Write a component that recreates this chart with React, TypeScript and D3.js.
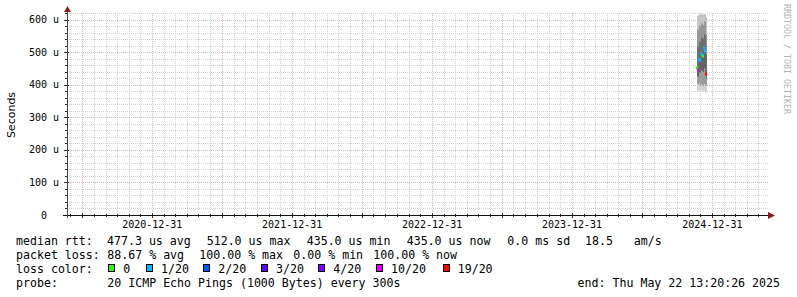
import React from "react";
import * as d3 from "d3";

// ---- data ----
const endTime = new Date(2025, 4, 22, 13, 20, 26);
const xTickLabels = ["2020-12-31", "2021-12-31", "2022-12-31", "2023-12-31", "2024-12-31"];
const yTickValues = [0, 100, 200, 300, 400, 500, 600];
const yTickLabels = ["0  ", "100 u", "200 u", "300 u", "400 u", "500 u", "600 u"];

const smokeDates = ["2024-11-21", "2024-11-23", "2024-11-26", "2024-11-28", "2024-12-01", "2024-12-04", "2024-12-06", "2024-12-09", "2024-12-12", "2024-12-14"];
const smokeMin = [382, 380, 385, 378, 384, 380, 377, 381, 376, 379];
const smokeP10 = [402, 400, 405, 398, 404, 401, 397, 402, 396, 399];
const smokeP25 = [428, 425, 440, 436, 446, 444, 440, 452, 440, 418];
const medians = [452, 446, 478, 476, 494, 492, 490, 512, 503, 435];
const smokeP75 = [520, 515, 535, 532, 545, 543, 540, 556, 550, 495];
const smokeP90 = [572, 568, 582, 580, 590, 588, 585, 596, 594, 555];
const smokeMax = [612, 614, 617, 616, 617, 617, 616, 617, 617, 610];
const lossCounts = [0, 10, 1, 1, 1, 1, 0, 1, 1, 19];

const lossLabels = ["0", "1/20", "2/20", "3/20", "4/20", "10/20", "19/20"];
const lossThresholds = [0, 1, 2, 3, 4, 10, 19];
const lossColors = ["#26ff00", "#00b8ff", "#0059ff", "#5e00ff", "#7e00ff", "#dd00ff", "#ff0000"];

const rttStats = ["477.3 us avg", "512.0 us max", "435.0 us min", "435.0 us now", "0.0 ms sd", "18.5   am/s"];
const lossStats = ["88.67 % avg", "100.00 % max", "0.00 % min", "100.00 % now"];
const probeText = "20 ICMP Echo Pings (1000 Bytes) every 300s";
const endText = "end: Thu May 22 13:20:26 2025";
const yAxisTitle = "Seconds";
const watermark = "RRDTOOL / TOBI OETIKER";

// ---- layout ----
const W = 797, H = 297;
const X0 = 67, X1 = 767, Y0 = 215, Y1 = 13;
const rttX = [107, 206.7, 306.7, 406.7, 507.3, 585];
const lossX = [107.3, 199.3, 293.3, 373.3];
const boxX = [108.3, 146, 203.3, 261, 318.3, 376, 442.7];
const rowY = [245, 259, 273, 287];
const mono = "'DejaVu Sans Mono', monospace";

export default function App() {
  const parse = d3.timeParse("%Y-%m-%d");
  const start = d3.timeYear.offset(endTime, -5);
  const x = d3.scaleTime().domain([start, endTime]).range([X0, X1]);
  const y = d3.scaleLinear().domain([0, 621]).range([Y0, Y1]);

  const minorX = d3.timeMonth.range(start, endTime).map((d) => x(d3.timeDay.offset(d, -1)));
  const majorX = d3.timeMonth.every(6)!.range(start, endTime).map((d) => x(d3.timeDay.offset(d, -1)));
  const minorY = d3.range(0, 621, 20).filter((v) => v % 100 !== 0);

  const dates = smokeDates.map((s) => parse(s)!);
  const colW = dates.map((d, i) => {
    const n = i < dates.length - 1 ? x(dates[i + 1]) - x(d) : x(d) - x(dates[i - 1]);
    return n;
  });

  const layers: [number[], number[], string][] = [
    [smokeMin, smokeP10, "#d2d2d2"],
    [smokeP10, smokeP25, "#9c9c9c"],
    [smokeP25, medians, "#646464"],
    [medians, smokeP75, "#6e6e6e"],
    [smokeP75, smokeP90, "#979797"],
    [smokeP90, smokeMax, "#c4c4c4"],
  ];

  const lossIdx = (c: number) => {
    let k = 0;
    lossThresholds.forEach((t, i) => { if (c >= t) k = i; });
    return k;
  };

  return (
    <svg width={W} height={H} style={{ position: "absolute", left: 0, top: 0, display: "block", background: "#fff" }}>
      <rect x={0} y={0} width={W} height={H} fill="#fff" />
      {/* minor grid */}
      <g stroke="#d4d4d4" strokeWidth={1} strokeDasharray="1,1" shapeRendering="crispEdges">
        {minorX.map((px, i) => (
          <line key={"mx" + i} x1={Math.round(px) + 0.5} x2={Math.round(px) + 0.5} y1={Y1} y2={Y0} />
        ))}
        {minorY.map((v, i) => (
          <line key={"my" + i} x1={X0} x2={X1 + 1} y1={Math.round(y(v)) + 0.5} y2={Math.round(y(v)) + 0.5} />
        ))}
      </g>
      {/* major grid */}
      <g stroke="#e6b4b4" strokeWidth={1} strokeDasharray="1,1" shapeRendering="crispEdges">
        {majorX.map((px, i) => (
          <line key={"Mx" + i} x1={Math.round(px) + 0.5} x2={Math.round(px) + 0.5} y1={Y1} y2={Y0} />
        ))}
        {yTickValues.filter((v) => v > 0).map((v, i) => (
          <line key={"My" + i} x1={X0} x2={X1 + 1} y1={Math.round(y(v)) + 0.5} y2={Math.round(y(v)) + 0.5} />
        ))}
      </g>
      {/* smoke */}
      <g shapeRendering="crispEdges">
        {layers.map(([lo, hi, col], li) =>
          dates.map((d, i) => (
            <rect key={"s" + li + "_" + i} x={x(d)} width={colW[i] + 0.3} y={y(hi[i])} height={Math.max(0, y(lo[i]) - y(hi[i]))} fill={col} />
          ))
        )}
      </g>
      <g>
        {dates.map((d, i) => (
          <rect key={"m" + i} x={Math.round(x(d) + colW[i] / 2) - 1} width={2} y={Math.round(y(medians[i])) - 1.5} height={3} fill={lossColors[lossIdx(lossCounts[i])]} />
        ))}
      </g>
      {/* ticks */}
      <g stroke="#333" strokeWidth={1} shapeRendering="crispEdges">
        {minorX.map((px, i) => (
          <line key={"tx" + i} x1={Math.round(px) + 0.5} x2={Math.round(px) + 0.5} y1={Y0 - 1} y2={Y0 + 2} />
        ))}
        {majorX.map((px, i) => (
          <line key={"tX" + i} x1={Math.round(px) + 0.5} x2={Math.round(px) + 0.5} y1={Y0 - 2} y2={Y0 + 3} />
        ))}
        {minorY.map((v, i) => (
          <line key={"ty" + i} x1={X0 - 2} x2={X0 + 1} y1={Math.round(y(v)) + 0.5} y2={Math.round(y(v)) + 0.5} />
        ))}
        {yTickValues.map((v, i) => (
          <line key={"tY" + i} x1={X0 - 3} x2={X0 + 2} y1={Math.round(y(v)) + 0.5} y2={Math.round(y(v)) + 0.5} />
        ))}
      </g>
      {/* axes */}
      <line x1={X0 - 4} x2={X1 + 3} y1={Y0 + 0.5} y2={Y0 + 0.5} stroke="#111" strokeWidth={1} shapeRendering="crispEdges" />
      <line x1={X0 + 0.5} x2={X0 + 0.5} y1={Y0 + 3} y2={Y1 - 3} stroke="#444" strokeWidth={1} shapeRendering="crispEdges" />
      <path d={`M${X1 + 1},${Y0 - 3} L${X1 + 8},${Y0 + 0.5} L${X1 + 1},${Y0 + 4} Z`} fill="#8c1c1c" />
      <path d={`M${X0 - 3},${Y1 - 1} L${X0 + 0.5},${Y1 - 7} L${X0 + 4},${Y1 - 1} Z`} fill="#8c1c1c" />
      {/* y labels */}
      <g fontFamily={mono} fontSize={10} fill="#000" textAnchor="end" style={{ whiteSpace: "pre" }}>
        {yTickValues.map((v, i) => (
          <text key={"yl" + i} x={59} y={y(v) + 3.5} xmlSpace="preserve">{yTickLabels[i]}</text>
        ))}
      </g>
      {/* x labels */}
      <g fontFamily={mono} fontSize={10} fill="#000" textAnchor="middle">
        {xTickLabels.map((s, i) => (
          <text key={"xl" + i} x={x(parse(s)!)} y={228}>{s}</text>
        ))}
      </g>
      <text transform={`translate(11,${(Y0 + Y1) / 2 + 1}) rotate(-90)`} textAnchor="middle" dominantBaseline="central" fontFamily="'DejaVu Sans', sans-serif" fontSize={11} fill="#000">{yAxisTitle}</text>
      <text transform="translate(787,4) rotate(90)" dominantBaseline="central" fontFamily={mono} fontSize={8.3} fill="#b4b4b4">{watermark}</text>
      {/* legend */}
      <g fontFamily={mono} fontSize={11.6} fill="#000" style={{ whiteSpace: "pre" }}>
        <text x={16} y={rowY[0]}>median rtt:</text>
        {rttStats.map((s, i) => (
          <text key={"r" + i} x={rttX[i]} y={rowY[0]} xmlSpace="preserve">{s}</text>
        ))}
        <text x={16} y={rowY[1]}>packet loss:</text>
        {lossStats.map((s, i) => (
          <text key={"l" + i} x={lossX[i]} y={rowY[1]}>{s}</text>
        ))}
        <text x={16} y={rowY[2]}>loss color:</text>
        {lossLabels.map((s, i) => (
          <g key={"c" + i}>
            <rect x={Math.round(boxX[i]) + 0.5} y={264.5} width={6} height={7} fill={lossColors[i]} stroke="#000" strokeWidth={1} />
            <text x={boxX[i] + 15} y={rowY[2]}>{s}</text>
          </g>
        ))}
        <text x={16} y={rowY[3]}>probe:</text>
        <text x={107.3} y={rowY[3]}>{probeText}</text>
        <text x={780} y={rowY[3]} textAnchor="end">{endText}</text>
      </g>
    </svg>
  );
}
